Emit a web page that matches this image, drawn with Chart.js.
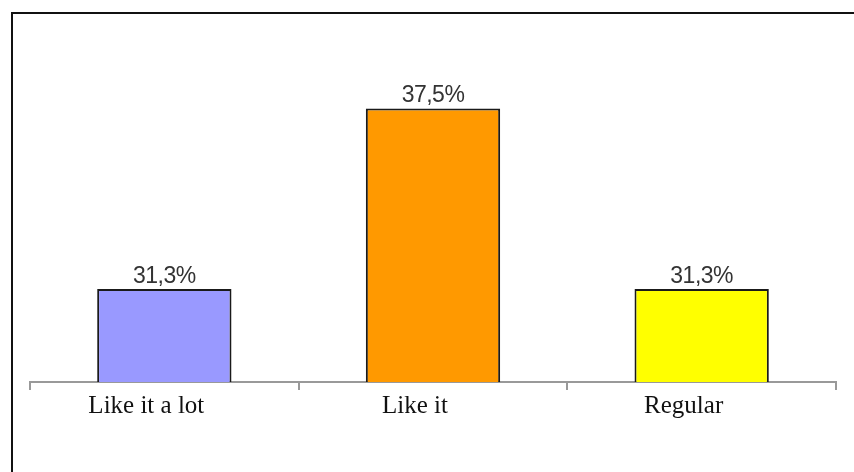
<!DOCTYPE html>
<html>
<head>
<meta charset="utf-8">
<script src="https://cdn.jsdelivr.net/npm/chart.js@4"></script>
<style>
  html, body { margin: 0; padding: 0; background: #fff; }
  #wrap { position: relative; width: 854px; height: 472px; }
  #frame {
    position: absolute; left: 11px; top: 12px; right: 0; bottom: 0;
    border-top: 2px solid #111; border-left: 2px solid #111;
  }
  canvas { position: absolute; left: 0; top: 0; }
</style>
</head>
<body>
<div id="wrap">
  <div id="frame"></div>
  <canvas id="chart" width="854" height="472"></canvas>
</div>
<script>
// chart data
const categories = ['Like it a lot', 'Like it', 'Regular'];
const values = [31.3, 37.5, 31.3];
const barColors = ['#9999ff', '#ff9900', '#ffff00'];

// draw the "31,3%" style labels above each bar
const valueLabels = {
    id: 'valueLabels',
    afterDatasetsDraw(chart) {
        const ctx = chart.ctx;
        const meta = chart.getDatasetMeta(0);
        ctx.save();
        ctx.font = '23px "Liberation Sans", Arial, sans-serif';
        ctx.letterSpacing = '-0.5px';
        ctx.fillStyle = '#333';
        ctx.textAlign = 'center';
        ctx.textBaseline = 'bottom';
        meta.data.forEach((bar, i) => {
            const txt = values[i].toFixed(1).replace('.', ',') + '%';
            ctx.fillText(txt, bar.x, bar.y - 1);
        });
        ctx.restore();
    }
};

window.onload = () => {
    const ctx = document.getElementById('chart').getContext('2d');
    new Chart(ctx, {
        type: 'bar',
        data: {
            labels: categories,
            datasets: [{
                data: values,
                backgroundColor: barColors,
                borderColor: '#1a1a1a',
                borderWidth: 2,
                categoryPercentage: 1,
                barPercentage: 0.5
            }]
        },
        options: {
            responsive: false,
            animation: false,
            layout: { padding: { left: 30, right: 18, top: 33, bottom: 50 } },
            plugins: {
                legend: { display: false },
                tooltip: { enabled: false }
            },
            scales: {
                y: {
                    display: false,
                    min: 28.1,
                    max: 40.1
                },
                x: {
                    border: { display: true, color: '#999', width: 2 },
                    grid: {
                        drawOnChartArea: false,
                        drawTicks: true,
                        tickLength: 8,
                        color: '#999',
                        lineWidth: 2
                    },
                    ticks: {
                        color: '#111',
                        padding: 1,
                        labelOffset: -18,
                        font: { family: '"Liberation Serif", "Times New Roman", serif', size: 25 }
                    }
                }
            }
        },
        plugins: [valueLabels]
    });
};
</script>
</body>
</html>
